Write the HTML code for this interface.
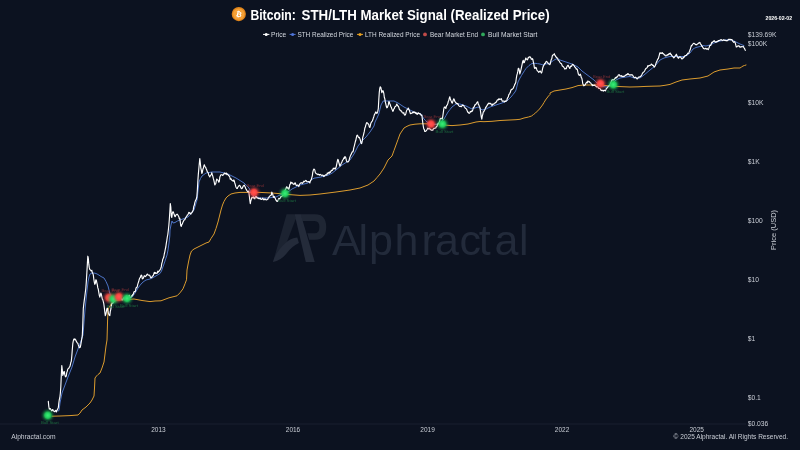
<!DOCTYPE html>
<html lang="en"><head><meta charset="utf-8"><title>Bitcoin: STH/LTH Market Signal (Realized Price)</title>
<style>
html,body{margin:0;padding:0;background:#0c1220;width:800px;height:450px;overflow:hidden}
svg{display:block;font-family:"Liberation Sans",sans-serif}
</style></head><body>
<svg width="800" height="450" viewBox="0 0 800 450">
<defs>
<radialGradient id="gr"><stop offset="0" stop-color="#ff5652"/><stop offset="0.27" stop-color="#ff4844"/><stop offset="0.42" stop-color="#fa4440" stop-opacity="0.88"/><stop offset="0.55" stop-color="#ee403d" stop-opacity="0.55"/><stop offset="0.72" stop-color="#e03c3a" stop-opacity="0.24"/><stop offset="0.86" stop-color="#e03c3a" stop-opacity="0.08"/><stop offset="1" stop-color="#e03c3a" stop-opacity="0"/></radialGradient>
<radialGradient id="gg"><stop offset="0" stop-color="#3dea78"/><stop offset="0.27" stop-color="#26da64"/><stop offset="0.42" stop-color="#22d05c" stop-opacity="0.88"/><stop offset="0.55" stop-color="#1fc456" stop-opacity="0.55"/><stop offset="0.72" stop-color="#1cb850" stop-opacity="0.24"/><stop offset="0.86" stop-color="#1cb850" stop-opacity="0.08"/><stop offset="1" stop-color="#1cb850" stop-opacity="0"/></radialGradient>
</defs>
<rect width="800" height="450" fill="#0c1220"/>
<g id="wm" fill="#222a3a">
<path d="M286.6 214.3 L294.6 214.3 L296 218.2 L281.5 256 L273 262 Z" fill="#1c2331"/>
<path d="M300.5 214.3 L315 214.3 Q326.2 214.3 326.2 227 Q326.2 239.8 315 239.8 L309.2 239.8 L307.3 233.3 L314.6 233.3 Q319.4 233.3 319.4 227 Q319.4 221 314.6 221 L302.4 221 Z" fill="#1f2634"/>
<path d="M294.6 214.3 L300.8 214.3 L314.7 262 L305.8 262 Z" fill="#242b3a"/>
<path d="M273 262 Q275.5 252 286 242.5 Q291 238.3 297.3 237.6 L298.9 243 Q291.5 246.5 286.5 253.5 Q281 260.5 273 262 Z" fill="#242b3a"/>
<text x="332.0 358.4 369.1 394.5 421.5 435.1 459.4 478.7 494.4 519.0" y="254.9" font-family="'Liberation Sans', sans-serif" font-size="43" fill="#222a3a">Alphractal</text>
</g>
<line x1="0" y1="424" x2="746" y2="424" stroke="#1d2432" stroke-width="0.8"/>
<polyline points="52.0,416.2 60.0,416.0 70.0,415.6 78.0,415.0 80.0,413.1 82.0,410.0 84.0,408.5 86.0,407.0 88.0,405.0 90.0,403.0 92.0,400.0 94.0,396.0 94.5,388.0 95.0,378.0 96.5,376.0 98.0,374.5 100.0,373.0 102.0,368.0 104.0,362.0 105.0,354.0 106.0,346.0 107.0,340.0 107.3,330.0 107.6,320.0 108.0,310.0 109.0,307.5 110.0,306.0 111.5,303.0 113.0,301.0 116.0,300.3 120.0,300.0 127.0,299.5 134.0,299.0 142.0,300.5 150.0,301.6 155.0,301.0 161.0,300.8 165.0,299.3 169.0,297.8 173.0,296.8 177.0,295.8 180.0,292.8 183.0,288.8 185.0,283.8 186.5,279.8 187.0,270.0 188.5,262.0 190.0,255.0 191.5,251.0 194.0,249.0 197.0,247.5 200.0,246.0 203.0,244.5 206.0,243.0 209.0,242.0 211.0,238.5 214.0,234.0 216.0,228.5 218.0,222.0 219.5,216.0 221.0,210.0 222.5,205.0 224.0,201.5 226.0,198.0 228.0,196.0 231.0,194.0 235.0,193.0 240.0,192.4 252.0,192.4 260.0,192.4 272.0,193.0 284.0,194.0 292.0,194.8 300.0,195.4 310.0,195.0 320.0,194.0 328.0,193.0 336.0,192.0 343.0,191.0 350.0,190.0 355.0,189.0 360.0,188.0 364.0,186.5 368.0,185.0 371.0,183.0 374.0,181.0 377.0,177.5 380.0,174.0 382.0,171.0 384.0,168.0 386.0,164.0 388.0,160.0 390.0,158.0 392.0,156.0 394.0,150.5 396.0,145.0 398.0,139.5 400.0,134.0 402.0,131.0 404.0,128.0 407.0,126.3 410.0,125.0 415.0,124.2 420.0,123.8 428.0,123.8 436.0,124.4 444.0,125.0 452.0,125.6 460.0,125.0 468.0,124.0 472.0,123.0 476.0,122.0 480.0,121.5 484.0,121.7 492.0,121.3 500.0,120.5 508.0,120.1 516.0,119.7 520.0,119.3 524.0,118.0 528.5,117.0 531.5,116.0 533.5,114.5 535.5,113.0 537.5,111.0 539.5,109.0 541.0,107.0 542.5,105.0 544.0,102.5 545.5,100.0 547.0,98.0 548.5,96.0 550.0,94.5 550.0,93.0 552.0,92.0 554.0,91.0 557.0,90.5 560.0,90.0 563.0,89.5 566.0,89.0 569.0,88.3 572.0,87.6 575.0,86.6 578.0,85.6 582.0,85.2 586.0,85.0 594.0,85.0 600.0,85.0 610.0,86.0 620.0,86.6 630.0,87.0 638.0,86.8 646.0,86.4 653.0,86.2 660.0,86.0 665.0,85.3 670.0,84.4 673.0,83.2 676.0,82.0 679.0,81.0 682.0,80.0 686.0,79.5 690.0,79.0 695.0,78.5 700.0,78.0 704.0,77.0 708.0,76.0 711.0,74.0 714.0,72.0 717.0,71.0 720.0,70.0 724.0,69.5 728.0,69.0 731.0,68.5 734.0,68.0 737.0,68.0 740.0,68.0 741.5,67.0 743.0,66.0 744.5,65.5 746.0,65.0" fill="none" stroke="#dc9c2e" stroke-width="1" stroke-linejoin="round" stroke-linecap="round"/>
<polyline points="58.0,411.0 59.0,410.6 60.0,403.0 61.0,398.0 62.0,393.0 63.5,389.0 65.0,385.0 66.5,381.0 68.0,377.0 70.0,372.0 72.0,367.0 73.5,362.0 75.0,357.0 76.5,353.0 78.0,349.0 79.5,345.0 81.0,341.0 82.0,338.0 83.0,335.0 84.0,322.0 85.0,310.0 86.5,295.0 88.0,282.0 89.0,277.0 90.0,274.0 92.0,273.0 94.0,273.0 96.0,273.5 98.0,274.5 101.0,276.5 104.0,278.0 106.0,281.5 108.0,286.0 110.0,294.0 112.0,298.0 116.0,299.5 120.0,299.0 124.0,299.0 128.0,298.5 132.0,297.2 133.0,296.0 134.0,294.6 136.0,291.5 138.0,288.0 140.0,285.3 142.0,283.0 144.0,281.3 146.0,280.0 148.0,279.5 150.0,279.0 152.5,277.8 155.0,276.5 157.5,275.0 160.0,273.5 161.5,271.0 162.5,268.0 164.0,264.0 165.0,261.0 166.0,258.0 167.0,255.0 168.0,250.0 169.0,243.0 169.8,236.0 170.0,230.0 171.0,225.0 172.0,221.0 173.0,223.0 175.0,222.5 177.5,221.0 180.0,220.0 184.0,218.5 188.0,217.0 191.0,213.5 194.0,210.0 195.5,205.0 197.0,200.0 198.0,191.0 199.0,182.0 200.5,178.5 202.0,176.0 204.0,174.5 206.0,173.0 209.0,172.5 212.0,172.0 216.0,172.0 220.0,172.0 224.0,173.0 228.0,174.0 232.0,176.0 236.0,178.0 240.0,180.5 244.0,183.0 246.5,185.5 249.0,188.0 250.5,191.5 252.0,195.0 256.0,196.5 260.0,198.0 264.0,198.0 268.0,198.0 272.0,197.5 276.0,197.0 280.0,195.0 284.0,193.0 286.0,191.5 288.0,192.0 290.0,190.5 292.0,189.0 296.0,187.0 300.0,185.0 304.0,184.0 308.0,183.0 311.0,180.0 314.0,178.2 317.0,177.7 320.0,177.2 324.0,176.2 328.0,175.2 332.0,173.2 336.0,170.0 339.0,167.5 342.0,165.0 346.0,162.5 350.0,160.0 352.0,157.0 354.0,154.0 356.0,150.0 358.0,146.0 360.0,143.5 362.0,141.0 364.0,139.0 366.0,137.0 368.0,134.5 370.0,132.0 372.0,129.0 374.0,126.0 375.0,122.0 377.0,118.0 378.8,114.0 379.9,109.5 381.0,105.0 382.1,103.0 383.2,101.0 385.5,101.0 388.0,101.0 391.0,101.0 394.0,101.0 396.0,102.0 398.0,103.0 401.0,105.0 404.0,107.0 407.0,108.5 410.0,110.0 413.0,111.5 416.0,113.0 418.5,113.5 421.0,114.0 422.5,116.5 424.0,119.0 425.5,120.5 427.0,122.0 430.0,123.5 434.0,124.5 438.0,124.0 441.0,122.0 444.0,119.0 446.0,115.5 448.0,112.0 450.0,109.5 452.0,107.0 454.0,105.5 456.0,104.0 458.0,104.0 460.0,104.0 463.0,105.0 466.0,106.0 469.0,107.5 472.0,109.0 475.0,108.0 478.0,107.0 480.0,108.0 482.0,110.0 484.0,109.5 486.0,109.0 488.0,108.0 490.0,107.0 493.0,106.0 496.0,105.0 499.0,104.0 502.0,103.0 504.5,102.0 507.0,101.0 509.0,99.0 511.0,97.0 513.0,94.5 515.0,92.0 516.0,90.0 517.0,86.0 518.0,82.0 520.0,78.0 521.5,75.5 523.0,73.0 524.5,70.7 526.0,68.5 527.5,67.0 529.0,65.5 530.5,64.5 532.0,63.5 535.0,63.3 537.5,63.6 540.0,64.0 543.0,65.0 546.0,64.0 549.0,63.5 550.5,62.5 552.0,61.5 553.5,60.5 555.0,59.5 557.5,58.5 560.0,60.0 563.0,61.0 566.0,62.0 569.0,63.0 572.0,64.0 575.0,65.5 578.0,67.0 580.0,69.0 582.0,71.0 584.0,72.5 586.0,74.0 588.0,75.5 590.0,77.0 592.0,78.5 594.0,80.0 595.5,81.5 597.0,83.0 600.0,85.0 603.0,86.5 606.0,87.0 608.0,86.5 610.0,86.0 613.0,83.0 616.0,80.0 618.0,79.0 620.0,78.0 623.0,77.5 626.0,77.0 630.0,76.5 634.0,78.0 637.0,78.0 640.0,78.0 642.0,76.5 644.0,75.0 647.0,72.5 650.0,70.0 652.5,68.0 655.0,66.0 657.5,63.0 660.0,60.0 662.0,59.0 664.0,58.0 667.0,57.2 670.0,56.5 675.0,56.5 680.0,56.5 685.0,56.5 687.5,55.0 690.0,53.0 691.5,51.0 693.0,49.0 694.5,48.2 696.0,47.5 698.0,47.0 700.0,46.5 703.0,45.5 706.0,46.0 708.0,45.5 710.0,45.0 712.0,44.0 714.0,43.0 717.0,42.0 720.0,41.0 723.0,40.5 726.0,40.0 729.0,40.0 732.0,40.0 734.0,41.0 736.0,42.0 738.0,43.0 740.0,44.0 742.0,44.8 744.0,45.6" fill="none" stroke="#5078cc" stroke-width="0.95" stroke-linejoin="round" stroke-linecap="round"/>
<polyline points="48.3,401.3 48.8,406.5 49.3,409.2 49.8,408.9 50.3,408.6 50.8,409.5 51.3,410.3 51.8,410.9 52.3,409.8 52.8,409.5 53.3,410.7 53.8,411.0 54.3,411.7 54.8,411.5 55.3,410.8 55.8,410.4 56.3,412.0 56.8,410.7 57.3,409.7 57.8,408.7 58.3,407.8 58.8,403.0 59.3,399.6 59.8,397.7 60.3,393.6 60.8,387.0 61.3,375.5 61.8,365.5 62.3,370.0 62.8,375.4 63.3,374.1 63.8,371.7 64.3,371.5 64.8,374.7 65.3,376.3 65.8,376.8 66.3,376.0 66.8,372.4 67.3,371.2 67.8,369.1 68.3,368.5 68.8,368.3 69.3,367.2 69.8,366.6 70.3,365.0 70.8,362.4 71.3,361.3 71.8,356.1 72.3,349.5 72.8,343.7 73.3,340.9 73.8,339.1 74.3,339.6 74.8,338.8 75.3,340.0 75.8,339.9 76.3,341.4 76.8,342.2 77.3,342.9 77.8,343.2 78.3,344.9 78.8,346.0 79.3,347.7 79.8,347.7 80.3,347.2 80.8,344.6 81.3,341.6 81.8,338.6 82.3,335.7 82.8,323.7 83.3,308.5 83.8,304.1 84.3,300.1 84.8,296.6 85.3,292.5 85.8,288.5 86.3,281.9 86.8,273.8 87.3,264.9 87.8,256.2 88.3,258.2 88.8,264.2 89.3,267.7 89.8,269.7 90.3,269.7 90.8,270.5 91.3,271.0 91.8,270.3 92.3,272.6 92.8,273.3 93.3,274.9 93.8,279.0 94.3,282.1 94.8,284.3 95.3,283.4 95.8,279.8 96.3,280.2 96.8,282.6 97.3,284.7 97.8,287.9 98.3,289.3 98.8,292.4 99.3,295.3 99.8,297.1 100.3,295.4 100.8,293.1 101.3,294.1 101.8,296.5 102.3,299.2 102.8,299.7 103.3,301.6 103.8,303.7 104.3,307.5 104.8,311.8 105.3,315.6 105.8,314.4 106.3,312.0 106.8,309.1 107.3,308.0 107.8,310.0 108.3,313.2 108.8,314.2 109.3,315.3 109.8,315.6 110.3,311.4 110.8,309.3 111.3,305.9 111.8,303.6 112.3,303.0 112.8,303.2 113.3,302.4 113.8,301.6 114.3,299.7 114.8,299.5 115.3,299.1 115.8,298.7 116.3,298.9 116.8,298.1 117.3,298.1 117.8,297.4 118.3,297.0 118.8,297.4 119.3,297.9 119.8,298.5 120.3,298.0 120.8,298.2 121.3,297.8 121.8,299.6 122.3,300.0 122.8,299.0 123.3,298.5 123.8,297.7 124.3,298.3 124.8,298.4 125.3,299.5 125.8,298.6 126.3,297.5 126.8,296.0 127.3,297.7 127.8,297.3 128.3,296.0 128.8,296.4 129.3,295.3 129.8,297.9 130.3,297.3 130.8,297.0 131.3,296.6 131.8,295.5 132.3,295.8 132.8,294.3 133.3,294.4 133.8,292.1 134.3,291.5 134.8,291.9 135.3,291.5 135.8,289.0 136.3,287.4 136.8,287.4 137.3,286.4 137.8,284.1 138.3,282.6 138.8,281.0 139.3,279.2 139.8,277.9 140.3,277.5 140.8,275.9 141.3,275.1 141.8,275.6 142.3,279.0 142.8,278.4 143.3,278.3 143.8,276.9 144.3,275.7 144.8,276.3 145.3,276.6 145.8,276.0 146.3,275.7 146.8,274.7 147.3,274.0 147.8,274.8 148.3,275.1 148.8,275.1 149.3,275.1 149.8,275.5 150.3,276.9 150.8,277.8 151.3,277.3 151.8,277.6 152.3,276.4 152.8,275.8 153.3,275.6 153.8,274.0 154.3,272.4 154.8,273.3 155.3,272.5 155.8,273.5 156.3,273.1 156.8,273.3 157.3,273.1 157.8,271.1 158.3,272.1 158.8,271.4 159.3,271.0 159.8,270.2 160.3,269.4 160.8,268.2 161.3,266.7 161.8,263.4 162.3,261.9 162.8,259.1 163.3,258.3 163.8,257.0 164.3,254.0 164.8,251.8 165.3,249.2 165.8,247.0 166.3,243.4 166.8,240.5 167.3,237.0 167.8,234.5 168.3,230.5 168.8,225.8 169.3,219.7 169.8,212.1 170.3,203.6 170.8,207.1 171.3,215.8 171.8,217.5 172.3,213.4 172.8,211.9 173.3,211.8 173.8,213.4 174.3,214.8 174.8,216.4 175.3,216.6 175.8,215.1 176.3,214.7 176.8,214.4 177.3,214.2 177.8,215.0 178.3,215.8 178.8,216.7 179.3,218.9 179.8,218.3 180.3,221.8 180.8,225.9 181.3,226.3 181.8,224.7 182.3,224.0 182.8,222.6 183.3,221.5 183.8,220.4 184.3,219.9 184.8,219.8 185.3,218.6 185.8,217.5 186.3,216.7 186.8,216.2 187.3,215.0 187.8,214.9 188.3,213.7 188.8,212.4 189.3,213.2 189.8,212.7 190.3,213.7 190.8,214.2 191.3,213.0 191.8,212.8 192.3,211.9 192.8,211.1 193.3,209.7 193.8,206.3 194.3,205.3 194.8,202.7 195.3,201.1 195.8,200.0 196.3,199.1 196.8,197.2 197.3,191.0 197.8,181.6 198.3,174.6 198.8,169.0 199.3,163.6 199.8,158.5 200.3,162.9 200.8,167.8 201.3,170.2 201.8,173.4 202.3,172.4 202.8,169.6 203.3,168.3 203.8,166.3 204.3,164.8 204.8,166.0 205.3,167.0 205.8,167.7 206.3,169.0 206.8,170.2 207.3,171.7 207.8,172.3 208.3,173.0 208.8,175.3 209.3,176.0 209.8,177.0 210.3,175.6 210.8,175.0 211.3,174.8 211.8,172.7 212.3,174.7 212.8,176.1 213.3,178.4 213.8,180.2 214.3,182.3 214.8,185.0 215.3,184.1 215.8,183.5 216.3,180.9 216.8,179.0 217.3,179.8 217.8,180.0 218.3,180.9 218.8,182.2 219.3,181.4 219.8,177.2 220.3,175.9 220.8,174.9 221.3,174.7 221.8,174.8 222.3,175.0 222.8,175.5 223.3,174.6 223.8,174.0 224.3,173.5 224.8,173.0 225.3,173.9 225.8,173.6 226.3,173.0 226.8,174.6 227.3,174.0 227.8,174.4 228.3,175.2 228.8,175.8 229.3,176.1 229.8,177.0 230.3,179.3 230.8,178.7 231.3,179.1 231.8,180.2 232.3,180.5 232.8,180.9 233.3,181.2 233.8,179.9 234.3,181.0 234.8,183.0 235.3,184.7 235.8,186.7 236.3,187.7 236.8,188.5 237.3,188.4 237.8,187.3 238.3,186.5 238.8,185.8 239.3,185.3 239.8,185.6 240.3,186.1 240.8,187.7 241.3,188.4 241.8,188.7 242.3,188.2 242.8,187.1 243.3,185.9 243.8,185.7 244.3,185.1 244.8,186.3 245.3,187.1 245.8,188.9 246.3,189.3 246.8,190.5 247.3,191.2 247.8,191.9 248.3,191.1 248.8,191.2 249.3,195.8 249.8,200.1 250.3,203.6 250.8,200.7 251.3,199.2 251.8,197.3 252.3,197.9 252.8,197.3 253.3,196.7 253.8,198.2 254.3,197.6 254.8,198.9 255.3,197.3 255.8,196.2 256.3,196.4 256.8,197.8 257.3,197.6 257.8,198.2 258.3,198.6 258.8,198.0 259.3,198.6 259.8,198.6 260.3,198.2 260.8,199.3 261.3,199.5 261.8,199.2 262.3,198.7 262.8,198.1 263.3,199.5 263.8,199.8 264.3,199.0 264.8,199.7 265.3,199.0 265.8,199.7 266.3,199.8 266.8,199.8 267.3,199.5 267.8,199.3 268.3,197.9 268.8,197.4 269.3,196.6 269.8,196.0 270.3,195.6 270.8,195.2 271.3,195.1 271.8,192.1 272.3,193.5 272.8,194.4 273.3,196.9 273.8,197.4 274.3,196.4 274.8,197.8 275.3,198.3 275.8,200.1 276.3,200.1 276.8,201.4 277.3,201.5 277.8,200.8 278.3,199.9 278.8,198.4 279.3,198.8 279.8,198.8 280.3,197.8 280.8,196.6 281.3,196.7 281.8,196.5 282.3,195.7 282.8,195.2 283.3,195.5 283.8,193.8 284.3,192.7 284.8,190.6 285.3,189.7 285.8,188.7 286.3,187.6 286.8,186.7 287.3,188.2 287.8,187.9 288.3,188.0 288.8,189.3 289.3,187.5 289.8,184.7 290.3,184.1 290.8,182.0 291.3,183.2 291.8,182.6 292.3,183.2 292.8,183.1 293.3,184.3 293.8,184.2 294.3,184.2 294.8,183.1 295.3,182.9 295.8,184.5 296.3,185.4 296.8,185.4 297.3,185.1 297.8,185.1 298.3,185.6 298.8,186.6 299.3,184.8 299.8,183.8 300.3,183.4 300.8,182.9 301.3,182.7 301.8,182.8 302.3,183.5 302.8,182.8 303.3,182.2 303.8,181.2 304.3,181.7 304.8,181.5 305.3,180.7 305.8,180.4 306.3,180.8 306.8,181.6 307.3,181.8 307.8,181.7 308.3,181.5 308.8,181.8 309.3,181.9 309.8,183.0 310.3,181.2 310.8,180.1 311.3,179.7 311.8,177.6 312.3,175.8 312.8,172.2 313.3,170.3 313.8,169.1 314.3,169.3 314.8,170.0 315.3,172.5 315.8,173.2 316.3,173.6 316.8,174.0 317.3,174.1 317.8,174.6 318.3,174.2 318.8,174.3 319.3,175.1 319.8,174.9 320.3,174.4 320.8,174.9 321.3,175.0 321.8,175.6 322.3,175.3 322.8,175.1 323.3,175.5 323.8,176.6 324.3,176.0 324.8,175.5 325.3,175.1 325.8,174.8 326.3,174.8 326.8,174.8 327.3,173.0 327.8,173.7 328.3,172.9 328.8,172.3 329.3,173.2 329.8,171.9 330.3,172.3 330.8,171.7 331.3,170.3 331.8,170.3 332.3,170.3 332.8,169.7 333.3,168.2 333.8,168.6 334.3,168.6 334.8,168.0 335.3,169.1 335.8,168.2 336.3,166.3 336.8,163.8 337.3,161.3 337.8,159.3 338.3,160.1 338.8,162.3 339.3,164.0 339.8,166.1 340.3,165.4 340.8,164.6 341.3,163.0 341.8,162.4 342.3,160.9 342.8,160.0 343.3,159.4 343.8,157.8 344.3,158.5 344.8,156.7 345.3,156.9 345.8,157.8 346.3,160.2 346.8,161.5 347.3,162.0 347.8,162.0 348.3,161.8 348.8,161.0 349.3,159.3 349.8,157.5 350.3,156.1 350.8,154.9 351.3,154.1 351.8,152.7 352.3,151.8 352.8,152.0 353.3,150.8 353.8,147.7 354.3,146.1 354.8,143.9 355.3,141.8 355.8,140.3 356.3,137.8 356.8,135.6 357.3,135.1 357.8,135.8 358.3,137.1 358.8,137.7 359.3,137.3 359.8,138.5 360.3,139.9 360.8,142.2 361.3,143.6 361.8,143.2 362.3,140.6 362.8,137.1 363.3,135.6 363.8,133.5 364.3,131.4 364.8,128.3 365.3,127.0 365.8,125.2 366.3,123.6 366.8,122.6 367.3,122.9 367.8,123.5 368.3,124.0 368.8,124.7 369.3,126.8 369.8,127.5 370.3,125.9 370.8,123.4 371.3,122.3 371.8,121.6 372.3,121.1 372.8,119.8 373.3,118.2 373.8,116.7 374.3,114.9 374.8,114.0 375.3,113.1 375.8,111.9 376.3,112.5 376.8,113.4 377.3,112.8 377.8,111.2 378.3,108.6 378.8,99.6 379.3,92.1 379.8,88.2 380.3,86.8 380.8,87.3 381.3,89.6 381.8,92.6 382.3,91.8 382.8,90.6 383.3,91.4 383.8,93.3 384.3,97.3 384.8,98.7 385.3,101.9 385.8,103.8 386.3,106.3 386.8,107.8 387.3,107.5 387.8,106.2 388.3,104.9 388.8,101.7 389.3,101.9 389.8,103.9 390.3,104.7 390.8,106.7 391.3,107.3 391.8,108.8 392.3,109.9 392.8,111.3 393.3,110.8 393.8,108.9 394.3,108.6 394.8,106.9 395.3,106.6 395.8,106.2 396.3,105.2 396.8,104.1 397.3,105.2 397.8,105.9 398.3,106.1 398.8,107.3 399.3,109.2 399.8,109.6 400.3,110.5 400.8,110.9 401.3,110.8 401.8,111.7 402.3,112.6 402.8,113.0 403.3,113.2 403.8,112.7 404.3,114.6 404.8,115.2 405.3,114.8 405.8,113.7 406.3,111.6 406.8,110.1 407.3,109.5 407.8,109.3 408.3,108.0 408.8,109.3 409.3,110.2 409.8,111.7 410.3,113.4 410.8,113.7 411.3,113.2 411.8,113.3 412.3,112.9 412.8,112.0 413.3,112.7 413.8,111.9 414.3,112.5 414.8,112.0 415.3,113.2 415.8,112.6 416.3,113.9 416.8,113.1 417.3,114.3 417.8,113.7 418.3,112.8 418.8,113.2 419.3,113.8 419.8,113.5 420.3,113.9 420.8,114.8 421.3,115.5 421.8,115.0 422.3,118.6 422.8,123.0 423.3,126.3 423.8,129.0 424.3,129.4 424.8,131.5 425.3,131.5 425.8,131.1 426.3,130.7 426.8,130.0 427.3,129.0 427.8,128.0 428.3,128.7 428.8,128.9 429.3,128.1 429.8,128.5 430.3,129.6 430.8,129.8 431.3,130.0 431.8,130.3 432.3,130.0 432.8,130.2 433.3,129.0 433.8,128.4 434.3,128.4 434.8,128.3 435.3,128.0 435.8,128.0 436.3,126.6 436.8,126.4 437.3,125.5 437.8,123.9 438.3,123.2 438.8,123.4 439.3,122.1 439.8,120.4 440.3,118.5 440.8,118.6 441.3,118.3 441.8,118.4 442.3,119.2 442.8,116.2 443.3,112.7 443.8,108.9 444.3,107.1 444.8,107.3 445.3,107.0 445.8,108.5 446.3,106.6 446.8,105.2 447.3,104.9 447.8,103.6 448.3,101.3 448.8,100.5 449.3,98.1 449.8,96.8 450.3,98.7 450.8,100.2 451.3,101.2 451.8,102.8 452.3,103.1 452.8,101.5 453.3,99.9 453.8,98.8 454.3,99.8 454.8,101.3 455.3,101.9 455.8,102.7 456.3,103.5 456.8,103.2 457.3,104.0 457.8,103.5 458.3,104.9 458.8,105.6 459.3,106.1 459.8,106.5 460.3,106.2 460.8,106.4 461.3,106.7 461.8,105.8 462.3,105.7 462.8,104.9 463.3,105.5 463.8,105.6 464.3,106.8 464.8,107.3 465.3,108.2 465.8,108.5 466.3,108.7 466.8,109.7 467.3,111.1 467.8,112.3 468.3,112.2 468.8,113.2 469.3,113.3 469.8,112.8 470.3,111.5 470.8,111.8 471.3,111.0 471.8,111.6 472.3,110.9 472.8,109.9 473.3,107.3 473.8,107.4 474.3,106.7 474.8,104.9 475.3,105.0 475.8,104.3 476.3,103.6 476.8,102.8 477.3,102.1 477.8,101.8 478.3,104.3 478.8,104.9 479.3,106.2 479.8,107.2 480.3,109.9 480.8,113.6 481.3,117.2 481.8,119.1 482.3,115.9 482.8,114.3 483.3,111.9 483.8,111.7 484.3,110.5 484.8,109.8 485.3,108.5 485.8,107.0 486.3,107.1 486.8,105.9 487.3,105.2 487.8,104.1 488.3,103.9 488.8,103.1 489.3,103.3 489.8,103.7 490.3,103.6 490.8,103.4 491.3,104.5 491.8,105.3 492.3,105.3 492.8,104.0 493.3,104.3 493.8,104.0 494.3,103.7 494.8,103.4 495.3,102.6 495.8,102.3 496.3,102.2 496.8,101.1 497.3,99.9 497.8,99.9 498.3,99.9 498.8,98.8 499.3,99.0 499.8,99.5 500.3,99.2 500.8,99.1 501.3,98.7 501.8,100.1 502.3,101.3 502.8,101.0 503.3,101.0 503.8,101.1 504.3,102.0 504.8,101.6 505.3,100.8 505.8,101.3 506.3,101.0 506.8,100.6 507.3,98.5 507.8,97.6 508.3,96.8 508.8,94.7 509.3,94.2 509.8,93.3 510.3,92.3 510.8,90.5 511.3,89.4 511.8,89.6 512.3,89.2 512.8,88.7 513.3,88.1 513.8,86.8 514.3,85.8 514.8,84.3 515.3,83.6 515.8,82.2 516.3,78.3 516.8,75.4 517.3,73.7 517.8,71.4 518.3,68.3 518.8,68.6 519.3,70.3 519.8,73.9 520.3,72.4 520.8,70.3 521.3,68.1 521.8,65.8 522.3,63.4 522.8,61.0 523.3,60.3 523.8,62.8 524.3,62.5 524.8,60.8 525.3,59.9 525.8,58.0 526.3,59.1 526.8,59.2 527.3,59.9 527.8,59.2 528.3,57.4 528.8,57.7 529.3,56.8 529.8,56.8 530.3,57.1 530.8,57.9 531.3,59.2 531.8,59.3 532.3,58.6 532.8,59.1 533.3,61.8 533.8,63.8 534.3,67.3 534.8,68.5 535.3,68.1 535.8,67.4 536.3,67.9 536.8,69.7 537.3,70.7 537.8,71.1 538.3,71.6 538.8,72.3 539.3,71.9 539.8,71.2 540.3,71.0 540.8,72.1 541.3,73.1 541.8,72.5 542.3,70.1 542.8,67.7 543.3,66.3 543.8,65.4 544.3,64.3 544.8,63.4 545.3,63.4 545.8,62.3 546.3,61.3 546.8,61.8 547.3,62.0 547.8,62.6 548.3,63.8 548.8,64.0 549.3,64.1 549.8,64.7 550.3,63.8 550.8,61.1 551.3,59.5 551.8,58.6 552.3,55.9 552.8,55.1 553.3,54.7 553.8,54.7 554.3,53.7 554.8,55.1 555.3,55.7 555.8,56.7 556.3,57.3 556.8,57.3 557.3,58.6 557.8,59.0 558.3,60.2 558.8,60.5 559.3,61.3 559.8,62.1 560.3,62.8 560.8,63.4 561.3,63.5 561.8,64.6 562.3,66.0 562.8,66.4 563.3,66.5 563.8,67.3 564.3,67.9 564.8,69.1 565.3,68.8 565.8,68.4 566.3,68.7 566.8,66.9 567.3,66.2 567.8,65.3 568.3,65.4 568.8,66.9 569.3,67.4 569.8,68.5 570.3,66.9 570.8,66.2 571.3,66.5 571.8,65.9 572.3,64.6 572.8,64.4 573.3,64.8 573.8,65.3 574.3,66.0 574.8,67.1 575.3,67.4 575.8,68.1 576.3,69.2 576.8,68.8 577.3,69.4 577.8,71.6 578.3,73.9 578.8,74.8 579.3,75.5 579.8,74.8 580.3,74.1 580.8,75.4 581.3,77.7 581.8,78.2 582.3,80.5 582.8,83.8 583.3,84.7 583.8,85.8 584.3,85.5 584.8,85.0 585.3,84.7 585.8,83.5 586.3,82.7 586.8,82.2 587.3,82.9 587.8,81.0 588.3,81.5 588.8,81.9 589.3,81.6 589.8,82.4 590.3,82.7 590.8,83.2 591.3,83.8 591.8,84.3 592.3,85.7 592.8,84.9 593.3,85.3 593.8,85.3 594.3,85.4 594.8,84.9 595.3,85.6 595.8,86.2 596.3,86.5 596.8,87.0 597.3,86.8 597.8,86.7 598.3,87.5 598.8,88.4 599.3,88.4 599.8,88.5 600.3,88.9 600.8,90.1 601.3,90.6 601.8,90.0 602.3,90.3 602.8,90.8 603.3,91.1 603.8,90.2 604.3,90.1 604.8,90.6 605.3,90.9 605.8,90.2 606.3,88.5 606.8,88.3 607.3,87.6 607.8,87.1 608.3,86.4 608.8,85.9 609.3,85.3 609.8,85.1 610.3,83.9 610.8,82.7 611.3,81.5 611.8,80.1 612.3,79.7 612.8,80.1 613.3,79.8 613.8,80.1 614.3,79.3 614.8,78.7 615.3,77.7 615.8,78.1 616.3,77.0 616.8,77.6 617.3,76.6 617.8,76.2 618.3,75.1 618.8,74.8 619.3,74.7 619.8,75.9 620.3,76.1 620.8,75.8 621.3,75.6 621.8,76.6 622.3,76.6 622.8,76.2 623.3,76.6 623.8,76.3 624.3,76.3 624.8,75.8 625.3,75.5 625.8,75.2 626.3,74.4 626.8,74.8 627.3,74.6 627.8,73.5 628.3,73.9 628.8,74.7 629.3,74.7 629.8,75.2 630.3,74.8 630.8,75.0 631.3,74.7 631.8,75.0 632.3,74.9 632.8,75.5 633.3,76.4 633.8,77.1 634.3,77.6 634.8,77.5 635.3,77.1 635.8,77.7 636.3,77.7 636.8,78.7 637.3,78.9 637.8,78.4 638.3,77.3 638.8,77.1 639.3,77.2 639.8,76.8 640.3,76.7 640.8,76.3 641.3,75.7 641.8,74.8 642.3,73.6 642.8,72.8 643.3,72.2 643.8,71.9 644.3,71.4 644.8,70.5 645.3,69.4 645.8,68.7 646.3,68.2 646.8,67.9 647.3,67.3 647.8,65.7 648.3,66.1 648.8,65.9 649.3,65.4 649.8,65.5 650.3,65.3 650.8,65.0 651.3,64.0 651.8,64.4 652.3,65.0 652.8,65.5 653.3,65.3 653.8,66.4 654.3,67.1 654.8,66.5 655.3,65.4 655.8,63.9 656.3,62.4 656.8,61.6 657.3,60.1 657.8,58.9 658.3,58.9 658.8,56.9 659.3,55.1 659.8,52.9 660.3,52.9 660.8,53.5 661.3,53.1 661.8,53.3 662.3,52.6 662.8,53.6 663.3,53.6 663.8,54.2 664.3,54.9 664.8,54.9 665.3,55.8 665.8,56.0 666.3,55.8 666.8,55.3 667.3,54.6 667.8,55.1 668.3,54.8 668.8,53.8 669.3,54.1 669.8,53.4 670.3,53.1 670.8,54.6 671.3,54.4 671.8,55.7 672.3,56.0 672.8,56.7 673.3,57.1 673.8,57.9 674.3,57.4 674.8,56.6 675.3,55.7 675.8,55.4 676.3,54.2 676.8,55.2 677.3,56.8 677.8,57.3 678.3,58.3 678.8,57.9 679.3,57.1 679.8,56.8 680.3,56.8 680.8,57.3 681.3,58.2 681.8,58.8 682.3,58.8 682.8,58.5 683.3,57.1 683.8,57.6 684.3,56.7 684.8,55.9 685.3,55.5 685.8,55.5 686.3,55.4 686.8,54.6 687.3,54.3 687.8,53.2 688.3,53.4 688.8,53.1 689.3,51.7 689.8,50.5 690.3,49.3 690.8,47.4 691.3,45.6 691.8,45.8 692.3,44.7 692.8,44.2 693.3,43.5 693.8,43.3 694.3,43.6 694.8,43.9 695.3,44.3 695.8,44.7 696.3,44.6 696.8,44.8 697.3,44.0 697.8,43.7 698.3,43.4 698.8,42.8 699.3,42.8 699.8,42.3 700.3,43.4 700.8,44.4 701.3,44.9 701.8,46.3 702.3,46.3 702.8,47.4 703.3,48.2 703.8,48.6 704.3,48.7 704.8,48.9 705.3,48.5 705.8,48.3 706.3,48.9 706.8,49.1 707.3,48.7 707.8,49.3 708.3,49.6 708.8,48.4 709.3,47.0 709.8,45.4 710.3,45.4 710.8,45.4 711.3,43.7 711.8,42.3 712.3,42.6 712.8,41.9 713.3,41.5 713.8,41.0 714.3,40.7 714.8,41.5 715.3,42.0 715.8,42.2 716.3,41.7 716.8,42.0 717.3,41.4 717.8,41.4 718.3,40.5 718.8,40.6 719.3,40.5 719.8,40.4 720.3,39.8 720.8,40.0 721.3,39.6 721.8,40.2 722.3,40.3 722.8,40.6 723.3,40.1 723.8,39.7 724.3,40.2 724.8,40.4 725.3,40.2 725.8,40.6 726.3,40.8 726.8,40.5 727.3,40.7 727.8,40.4 728.3,39.6 728.8,39.4 729.3,39.3 729.8,39.6 730.3,39.7 730.8,39.3 731.3,39.8 731.8,39.6 732.3,40.2 732.8,41.4 733.3,41.7 733.8,42.3 734.3,41.7 734.8,41.9 735.3,43.1 735.8,45.2 736.3,47.0 736.8,46.9 737.3,46.3 737.8,46.0 738.3,45.8 738.8,46.2 739.3,46.0 739.8,47.1 740.3,47.2 740.8,46.8 741.3,46.9 741.8,46.6 742.3,46.7 742.8,46.6 743.3,46.4 743.8,47.5 744.3,48.2 744.8,49.1 745.3,50.4" fill="none" stroke="#ffffff" stroke-width="1.15" stroke-linejoin="round" stroke-linecap="round"/>
<text x="49.8" y="423.9" font-family="'Liberation Sans', sans-serif" font-size="4.4" text-anchor="middle" fill="#1d6a3e">Bull Start</text>
<text x="110.2" y="292.0" font-family="'Liberation Sans', sans-serif" font-size="4.2" text-anchor="middle" fill="#7a2e34">Bear End</text>
<text x="115.5" y="307.6" font-family="'Liberation Sans', sans-serif" font-size="4.4" text-anchor="middle" fill="#1d6a3e">Bull Start</text>
<text x="120.2" y="291.2" font-family="'Liberation Sans', sans-serif" font-size="4.2" text-anchor="middle" fill="#7a2e34">Bear End</text>
<text x="129" y="307.0" font-family="'Liberation Sans', sans-serif" font-size="4.4" text-anchor="middle" fill="#1d6a3e">Bull Start</text>
<text x="255.2" y="186.8" font-family="'Liberation Sans', sans-serif" font-size="4.2" text-anchor="middle" fill="#7a2e34">Bear End</text>
<text x="287" y="202.0" font-family="'Liberation Sans', sans-serif" font-size="4.4" text-anchor="middle" fill="#1d6a3e">Bull Start</text>
<text x="432.2" y="118.4" font-family="'Liberation Sans', sans-serif" font-size="4.2" text-anchor="middle" fill="#7a2e34">Bear End</text>
<text x="444.4" y="132.6" font-family="'Liberation Sans', sans-serif" font-size="4.4" text-anchor="middle" fill="#1d6a3e">Bull Start</text>
<text x="601.7" y="78.0" font-family="'Liberation Sans', sans-serif" font-size="4.2" text-anchor="middle" fill="#7a2e34">Bear End</text>
<text x="615.3" y="93.2" font-family="'Liberation Sans', sans-serif" font-size="4.4" text-anchor="middle" fill="#1d6a3e">Bull Start</text>
<circle cx="47.8" cy="415.3" r="7.5" fill="url(#gg)"/>
<circle cx="109" cy="297.6" r="7.5" fill="url(#gr)"/>
<circle cx="113.5" cy="299" r="7.5" fill="url(#gg)"/>
<circle cx="119" cy="296.8" r="7.5" fill="url(#gr)"/>
<circle cx="127" cy="298.4" r="7.5" fill="url(#gg)"/>
<circle cx="254" cy="192.4" r="7.5" fill="url(#gr)"/>
<circle cx="285" cy="193.4" r="7.5" fill="url(#gg)"/>
<circle cx="431" cy="124" r="7.5" fill="url(#gr)"/>
<circle cx="442.4" cy="124" r="7.5" fill="url(#gg)"/>
<circle cx="600.5" cy="83.6" r="7.5" fill="url(#gr)"/>
<circle cx="613.3" cy="84.6" r="7.5" fill="url(#gg)"/>
<circle cx="238.8" cy="14.1" r="7.1" fill="#e2861b"/>
<circle cx="238.8" cy="14.1" r="5.7" fill="#f4a036"/>
<text x="238.8" y="16.7" font-family="'Liberation Sans', sans-serif" font-size="7.2" font-weight="bold" text-anchor="middle" fill="#ffffff" transform="rotate(12 238.8 14.1)">₿</text>
<text y="19.6" font-family="'Liberation Sans', sans-serif" font-size="14" font-weight="bold" fill="#ffffff"><tspan x="250.4" textLength="45.4" lengthAdjust="spacingAndGlyphs">Bitcoin:</tspan> <tspan x="301.6" textLength="248" lengthAdjust="spacingAndGlyphs">STH/LTH Market Signal (Realized Price)</tspan></text>
<line x1="263" y1="34.4" x2="269.4" y2="34.4" stroke="#ffffff" stroke-width="1"/>
<circle cx="266.2" cy="34.4" r="1.5" fill="#ffffff"/>
<text x="271" y="36.8" font-family="'Liberation Sans', sans-serif" font-size="6.7" fill="#d4d8df" textLength="15.2" lengthAdjust="spacingAndGlyphs">Price</text>
<line x1="289.6" y1="34.4" x2="295.6" y2="34.4" stroke="#4f74d8" stroke-width="1"/>
<circle cx="292.6" cy="34.4" r="1.5" fill="#4f74d8"/>
<text x="297.4" y="36.8" font-family="'Liberation Sans', sans-serif" font-size="6.7" fill="#d4d8df" textLength="56" lengthAdjust="spacingAndGlyphs">STH Realized Price</text>
<line x1="357" y1="34.4" x2="363" y2="34.4" stroke="#e8a020" stroke-width="1"/>
<circle cx="360" cy="34.4" r="1.5" fill="#e8a020"/>
<text x="365" y="36.8" font-family="'Liberation Sans', sans-serif" font-size="6.7" fill="#d4d8df" textLength="55" lengthAdjust="spacingAndGlyphs">LTH Realized Price</text>
<circle cx="425" cy="34.4" r="1.9" fill="#c24a48"/>
<text x="430" y="36.8" font-family="'Liberation Sans', sans-serif" font-size="6.7" fill="#d4d8df" textLength="48" lengthAdjust="spacingAndGlyphs">Bear Market End</text>
<circle cx="483" cy="34.4" r="1.9" fill="#2fa85a"/>
<text x="488" y="36.8" font-family="'Liberation Sans', sans-serif" font-size="6.7" fill="#d4d8df" textLength="49.4" lengthAdjust="spacingAndGlyphs">Bull Market Start</text>
<text x="765.5" y="19.9" font-family="'Liberation Sans', sans-serif" font-size="5.2" font-weight="bold" fill="#ffffff" textLength="26.6" lengthAdjust="spacingAndGlyphs">2026-02-02</text>
<text x="747.8" y="37.45" font-family="'Liberation Sans', sans-serif" font-size="6.7" fill="#c9cdd5">$139.69K</text>
<text x="747.8" y="46.05" font-family="'Liberation Sans', sans-serif" font-size="6.7" fill="#c9cdd5">$100K</text>
<text x="747.8" y="105.05" font-family="'Liberation Sans', sans-serif" font-size="6.7" fill="#c9cdd5">$10K</text>
<text x="747.8" y="164.05" font-family="'Liberation Sans', sans-serif" font-size="6.7" fill="#c9cdd5">$1K</text>
<text x="747.8" y="223.05" font-family="'Liberation Sans', sans-serif" font-size="6.7" fill="#c9cdd5">$100</text>
<text x="747.8" y="282.05" font-family="'Liberation Sans', sans-serif" font-size="6.7" fill="#c9cdd5">$10</text>
<text x="747.8" y="341.05" font-family="'Liberation Sans', sans-serif" font-size="6.7" fill="#c9cdd5">$1</text>
<text x="747.8" y="400.05" font-family="'Liberation Sans', sans-serif" font-size="6.7" fill="#c9cdd5">$0.1</text>
<text x="747.8" y="426.25" font-family="'Liberation Sans', sans-serif" font-size="6.7" fill="#c9cdd5">$0.036</text>
<text x="0" y="0" font-family="'Liberation Sans', sans-serif" font-size="7.5" fill="#c9cdd5" text-anchor="middle" transform="translate(775.8 229.9) rotate(-90)">Price (USD)</text>
<text x="158.4" y="431.8" font-family="'Liberation Sans', sans-serif" font-size="6.5" fill="#c9cdd5" text-anchor="middle">2013</text>
<text x="293.0" y="431.8" font-family="'Liberation Sans', sans-serif" font-size="6.5" fill="#c9cdd5" text-anchor="middle">2016</text>
<text x="427.6" y="431.8" font-family="'Liberation Sans', sans-serif" font-size="6.5" fill="#c9cdd5" text-anchor="middle">2019</text>
<text x="562.1" y="431.8" font-family="'Liberation Sans', sans-serif" font-size="6.5" fill="#c9cdd5" text-anchor="middle">2022</text>
<text x="696.7" y="431.8" font-family="'Liberation Sans', sans-serif" font-size="6.5" fill="#c9cdd5" text-anchor="middle">2025</text>
<text x="11.2" y="439.1" font-family="'Liberation Sans', sans-serif" font-size="6.7" fill="#c9cdd5" textLength="44.3" lengthAdjust="spacingAndGlyphs">Alphractal.com</text>
<text x="673.6" y="438.7" font-family="'Liberation Sans', sans-serif" font-size="6.5" fill="#c9cdd5" textLength="114.4" lengthAdjust="spacingAndGlyphs">© 2025 Alphractal. All Rights Reserved.</text>
</svg>
</body></html>
